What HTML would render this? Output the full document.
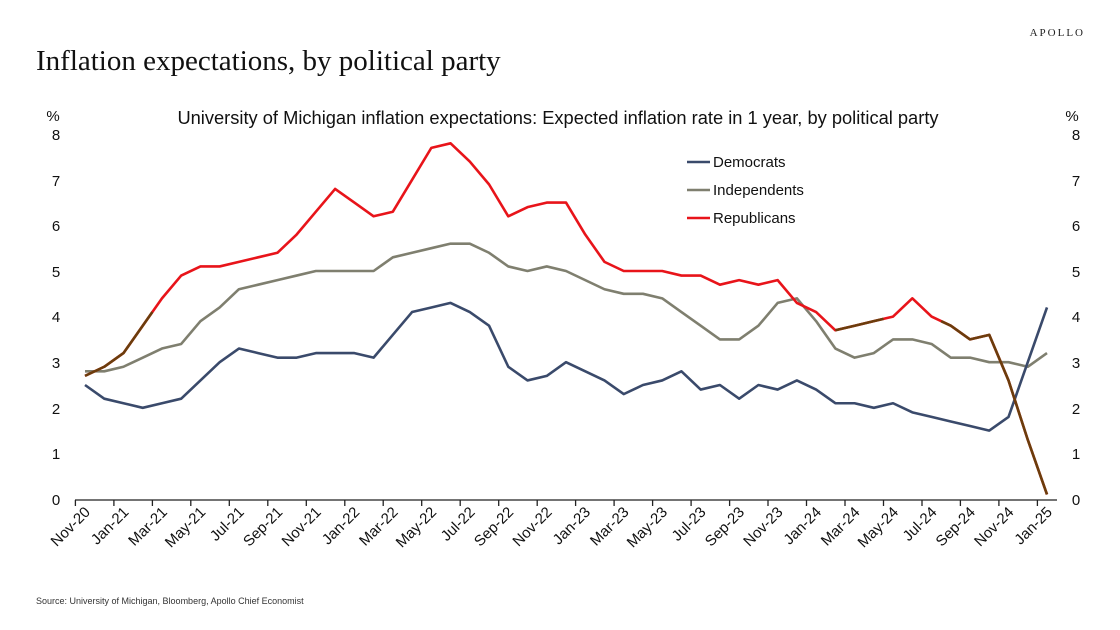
<!DOCTYPE html>
<html><head><meta charset="utf-8"><style>
body{margin:0;background:#fff;}
svg{display:block;font-family:"Liberation Sans",sans-serif;}
</style></head><body>
<svg width="1120" height="630" viewBox="0 0 1120 630" xmlns="http://www.w3.org/2000/svg">
<rect width="1120" height="630" fill="#fff"/>
<text x="1085" y="36" text-anchor="end" font-family="Liberation Serif, serif" font-size="11" letter-spacing="2" fill="#222">APOLLO</text>
<text x="36" y="70" font-family="Liberation Serif, serif" font-size="29" fill="#111">Inflation expectations, by political party</text>
<text x="558" y="124" text-anchor="middle" font-size="18.3" fill="#111">University of Michigan inflation expectations: Expected inflation rate in 1 year, by political party</text>
<text x="53" y="121" text-anchor="middle" font-size="15" fill="#111">%</text>
<text x="1072" y="121" text-anchor="middle" font-size="15" fill="#111">%</text>
<g font-size="15" fill="#111" text-anchor="middle">
<text x="56" y="505">0</text><text x="56" y="459">1</text><text x="56" y="414">2</text><text x="56" y="368">3</text><text x="56" y="322">4</text><text x="56" y="277">5</text><text x="56" y="231">6</text><text x="56" y="186">7</text><text x="56" y="140">8</text>
<text x="1076" y="505">0</text><text x="1076" y="459">1</text><text x="1076" y="414">2</text><text x="1076" y="368">3</text><text x="1076" y="322">4</text><text x="1076" y="277">5</text><text x="1076" y="231">6</text><text x="1076" y="186">7</text><text x="1076" y="140">8</text>
</g>
<line x1="75" y1="500" x2="1057" y2="500" stroke="#222" stroke-width="1.3"/>
<g stroke="#222" stroke-width="1.3">
<line x1="75.4" y1="500" x2="75.4" y2="506"/><line x1="113.9" y1="500" x2="113.9" y2="506"/><line x1="152.4" y1="500" x2="152.4" y2="506"/><line x1="190.8" y1="500" x2="190.8" y2="506"/><line x1="229.3" y1="500" x2="229.3" y2="506"/><line x1="267.8" y1="500" x2="267.8" y2="506"/><line x1="306.3" y1="500" x2="306.3" y2="506"/><line x1="344.8" y1="500" x2="344.8" y2="506"/><line x1="383.2" y1="500" x2="383.2" y2="506"/><line x1="421.7" y1="500" x2="421.7" y2="506"/><line x1="460.2" y1="500" x2="460.2" y2="506"/><line x1="498.7" y1="500" x2="498.7" y2="506"/><line x1="537.2" y1="500" x2="537.2" y2="506"/><line x1="575.6" y1="500" x2="575.6" y2="506"/><line x1="614.1" y1="500" x2="614.1" y2="506"/><line x1="652.6" y1="500" x2="652.6" y2="506"/><line x1="691.1" y1="500" x2="691.1" y2="506"/><line x1="729.6" y1="500" x2="729.6" y2="506"/><line x1="768" y1="500" x2="768" y2="506"/><line x1="806.5" y1="500" x2="806.5" y2="506"/><line x1="845" y1="500" x2="845" y2="506"/><line x1="883.5" y1="500" x2="883.5" y2="506"/><line x1="922" y1="500" x2="922" y2="506"/><line x1="960.4" y1="500" x2="960.4" y2="506"/><line x1="998.9" y1="500" x2="998.9" y2="506"/><line x1="1037.4" y1="500" x2="1037.4" y2="506"/>
</g>
<g font-size="15" fill="#111" text-anchor="end">
<text transform="translate(91,513) rotate(-45)">Nov-20</text>
<text transform="translate(129.5,513) rotate(-45)">Jan-21</text>
<text transform="translate(168,513) rotate(-45)">Mar-21</text>
<text transform="translate(206.4,513) rotate(-45)">May-21</text>
<text transform="translate(244.9,513) rotate(-45)">Jul-21</text>
<text transform="translate(283.4,513) rotate(-45)">Sep-21</text>
<text transform="translate(321.9,513) rotate(-45)">Nov-21</text>
<text transform="translate(360.4,513) rotate(-45)">Jan-22</text>
<text transform="translate(398.8,513) rotate(-45)">Mar-22</text>
<text transform="translate(437.3,513) rotate(-45)">May-22</text>
<text transform="translate(475.8,513) rotate(-45)">Jul-22</text>
<text transform="translate(514.3,513) rotate(-45)">Sep-22</text>
<text transform="translate(552.8,513) rotate(-45)">Nov-22</text>
<text transform="translate(591.2,513) rotate(-45)">Jan-23</text>
<text transform="translate(629.7,513) rotate(-45)">Mar-23</text>
<text transform="translate(668.2,513) rotate(-45)">May-23</text>
<text transform="translate(706.7,513) rotate(-45)">Jul-23</text>
<text transform="translate(745.2,513) rotate(-45)">Sep-23</text>
<text transform="translate(783.6,513) rotate(-45)">Nov-23</text>
<text transform="translate(822.1,513) rotate(-45)">Jan-24</text>
<text transform="translate(860.6,513) rotate(-45)">Mar-24</text>
<text transform="translate(899.1,513) rotate(-45)">May-24</text>
<text transform="translate(937.6,513) rotate(-45)">Jul-24</text>
<text transform="translate(976,513) rotate(-45)">Sep-24</text>
<text transform="translate(1014.5,513) rotate(-45)">Nov-24</text>
<text transform="translate(1053,513) rotate(-45)">Jan-25</text>
</g>
<g transform="translate(85,499) scale(19.24,-45.6)" fill="none" stroke-width="2.6" stroke-linejoin="round">
<polyline vector-effect="non-scaling-stroke" stroke="#7f7f6f" points="0,2.8 1,2.8 2,2.9 3,3.1 4,3.3 5,3.4 6,3.9 7,4.2 8,4.6 9,4.7 10,4.8 11,4.9 12,5 13,5 14,5 15,5 16,5.3 17,5.4 18,5.5 19,5.6 20,5.6 21,5.4 22,5.1 23,5 24,5.1 25,5 26,4.8 27,4.6 28,4.5 29,4.5 30,4.4 31,4.1 32,3.8 33,3.5 34,3.5 35,3.8 36,4.3 37,4.4 38,3.9 39,3.3 40,3.1 41,3.2 42,3.5 43,3.5 44,3.4 45,3.1 46,3.1 47,3 48,3 49,2.9 50,3.2"/>
<polyline vector-effect="non-scaling-stroke" stroke="#3a4a6b" points="0,2.5 1,2.2 2,2.1 3,2 4,2.1 5,2.2 6,2.6 7,3 8,3.3 9,3.2 10,3.1 11,3.1 12,3.2 13,3.2 14,3.2 15,3.1 16,3.6 17,4.1 18,4.2 19,4.3 20,4.1 21,3.8 22,2.9 23,2.6 24,2.7 25,3 26,2.8 27,2.6 28,2.3 29,2.5 30,2.6 31,2.8 32,2.4 33,2.5 34,2.2 35,2.5 36,2.4 37,2.6 38,2.4 39,2.1 40,2.1 41,2 42,2.1 43,1.9 44,1.8 45,1.7 46,1.6 47,1.5 48,1.8 49,3 50,4.2"/>
<polyline vector-effect="non-scaling-stroke" stroke="#e8141a" points="0,2.7 1,2.9 2,3.2 3,3.8 4,4.4 5,4.9 6,5.1 7,5.1 8,5.2 9,5.3 10,5.4 11,5.8 12,6.3 13,6.8 14,6.5 15,6.2 16,6.3 17,7 18,7.7 19,7.8 20,7.4 21,6.9 22,6.2 23,6.4 24,6.5 25,6.5 26,5.8 27,5.2 28,5 29,5 30,5 31,4.9 32,4.9 33,4.7 34,4.8 35,4.7 36,4.8 37,4.3 38,4.1 39,3.7 40,3.8 41,3.9 42,4 43,4.4 44,4 45,3.8 46,3.5 47,3.6 48,2.6 49,1.3 50,0.1"/>
<polyline vector-effect="non-scaling-stroke" stroke="#6b3d0c" points="0,2.7 1,2.9 2,3.2 3,3.8 3.5,4.1"/>
<polyline vector-effect="non-scaling-stroke" stroke="#6b3d0c" points="39,3.7 40,3.8 41,3.9 41.5,3.95"/>
<polyline vector-effect="non-scaling-stroke" stroke="#6b3d0c" points="44.5,3.9 45,3.8 46,3.5 47,3.6 48,2.6 49,1.3 50,0.1"/>
</g>
<g stroke-width="2.6">
<line x1="687" y1="162" x2="710" y2="162" stroke="#3a4a6b"/>
<line x1="687" y1="190" x2="710" y2="190" stroke="#7f7f6f"/>
<line x1="687" y1="218" x2="710" y2="218" stroke="#e8141a"/>
</g>
<g font-size="15" fill="#111">
<text x="713" y="167">Democrats</text>
<text x="713" y="195">Independents</text>
<text x="713" y="223">Republicans</text>
</g>
<text x="36" y="604" font-size="9" fill="#333">Source: University of Michigan, Bloomberg, Apollo Chief Economist</text>
</svg>
</body></html>
